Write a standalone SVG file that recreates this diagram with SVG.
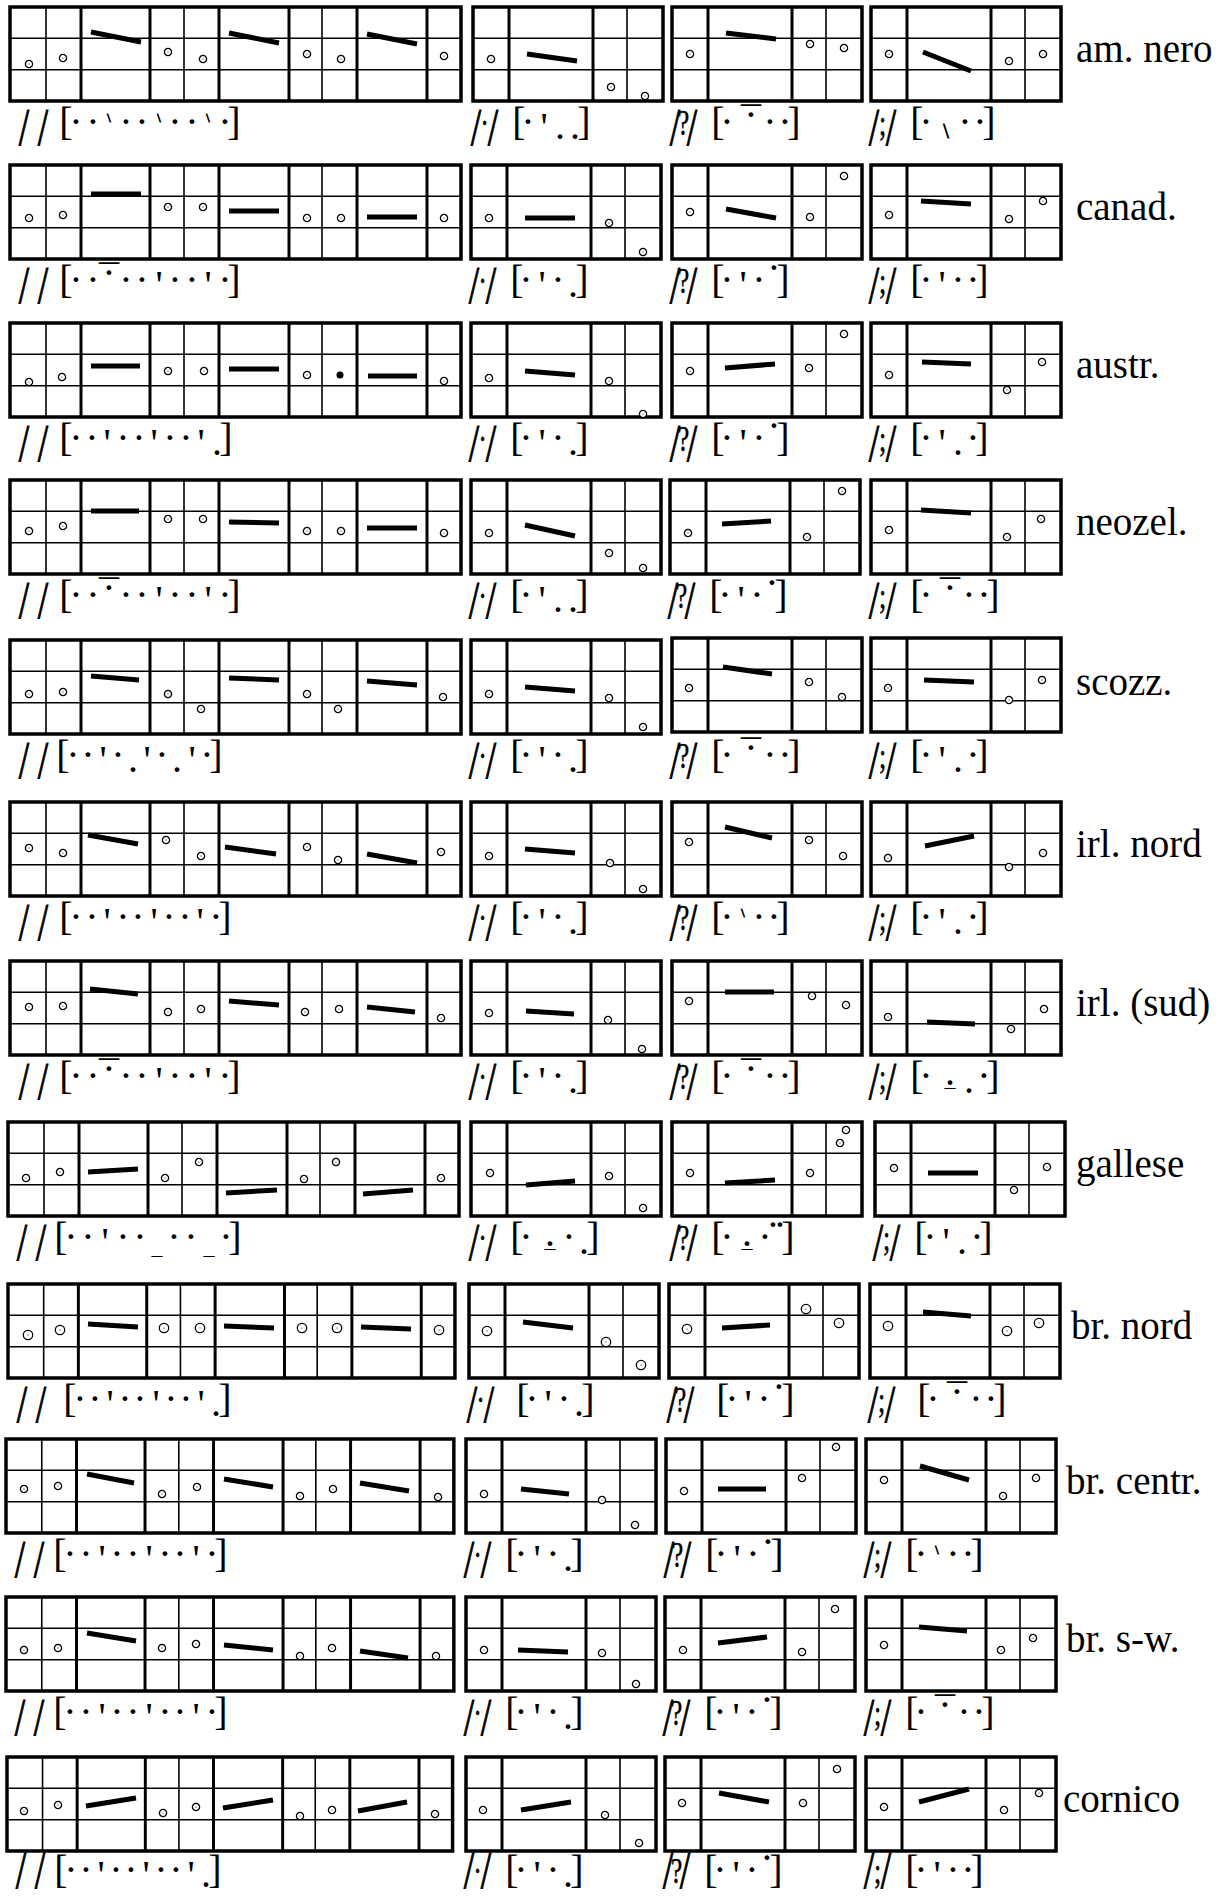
<svg xmlns="http://www.w3.org/2000/svg" xmlns:xlink="http://www.w3.org/1999/xlink" width="1227" height="1899" viewBox="0 0 1227 1899">
<style>
.thin{fill:none;stroke:#000;stroke-width:1.6}
.thick{fill:none;stroke:#000;stroke-width:3}
.frame{fill:none;stroke:#000;stroke-width:3.5}
.b{stroke:#000;stroke-width:5}
.tr{font-family:"Liberation Serif",serif;font-size:40px;text-anchor:middle;fill:#000}
.sl{font-family:"Liberation Serif",serif;font-size:52px;text-anchor:middle;fill:#000;stroke:#000;stroke-width:0.9}
.m{font-size:36px;stroke-width:0.5}
.g{font-size:12px;stroke:#000;stroke-width:0.9}
.lg{font-size:20px;stroke:#000;stroke-width:0.8}
.u{font-size:22px}
.lab{font-family:"Liberation Serif",serif;font-size:39px;fill:#000}
</style>
<defs>
<g id="G">
<rect width="451" height="94" fill="#fff"/>
<path class="thin" d="M0 31.3H451M0 62.7H451M36 0V94M174 0V94M312 0V94"/>
<path class="thick" d="M71 0V94M140 0V94M209 0V94M279 0V94M347 0V94M417 0V94"/>
<rect class="frame" width="451" height="94"/>
</g>
<g id="S">
<rect width="190" height="94" fill="#fff"/>
<path class="thin" d="M0 31.3H190M0 62.7H190M154 0V94"/>
<path class="thick" d="M36 0V94M120 0V94"/>
<rect class="frame" width="190" height="94"/>
</g>
<g id="c"><circle r="3.6" fill="#fff" stroke="#000" stroke-width="1.3"/><circle r="0.6"/></g>
<g id="C"><circle r="4.7" fill="#fff" stroke="#000" stroke-width="1.3"/><circle r="0.6"/></g>
</defs>
<rect width="1227" height="1899" fill="#fff"/>

<!-- Row 1 -->
<g id="row-am-nero">
<g id="r1-big" transform="translate(10,7)">
<use href="#G"/>
<use href="#c" x="19" y="57"/><use href="#c" x="53" y="51"/><use href="#c" x="158" y="45"/><use href="#c" x="193" y="52"/><use href="#c" x="297" y="47"/><use href="#c" x="331" y="52"/><use href="#c" x="434" y="49"/>
<line class="b" x1="81" y1="25" x2="131" y2="35"/><line class="b" x1="219" y1="26" x2="269" y2="36"/><line class="b" x1="357" y1="27" x2="407" y2="37"/>
<text class="sl" transform="scale(0.72,1)"><tspan x="19.4 45.8" y="138">//</tspan></text>
<text class="tr" transform="translate(3,0)"><tspan x="53 63 80 113 129 162 179 212 221" y="128">[·······]</tspan><tspan class="g" x="96 146 195" y="115">\\\</tspan></text>
</g>
<g id="r1-b2" transform="translate(473,7)">
<use href="#S"/>
<use href="#c" x="18" y="52"/><use href="#c" x="138" y="80"/><use href="#c" x="172" y="89"/>
<line class="b" x1="54" y1="47" x2="104" y2="54"/>
<text class="sl" transform="scale(0.72,1)"><tspan x="4.2 27.8" y="138">//</tspan><tspan class="m" x="16" y="128">·</tspan></text>
<text class="tr"><tspan x="46 55 111" y="128">[·]</tspan><tspan x="71" y="133">'</tspan><tspan x="87 102" y="132">..</tspan></text>
</g>
<g id="r1-b3" transform="translate(672,7)">
<use href="#S"/>
<use href="#c" x="18" y="47"/><use href="#c" x="138" y="37"/><use href="#c" x="172" y="41"/>
<line class="b" x1="54" y1="26" x2="104" y2="32"/>
<text class="sl" transform="scale(0.72,1)"><tspan x="4.2 27.8" y="138">//</tspan><tspan class="m" x="16" y="128">?</tspan></text>
<text class="tr"><tspan x="46 55 98 113 122" y="128">[···]</tspan><tspan x="79" y="128">¯</tspan><tspan x="79" y="121">·</tspan></text>
</g>
<g id="r1-b4" transform="translate(871,7)">
<use href="#S"/>
<use href="#c" x="18" y="47"/><use href="#c" x="138" y="54"/><use href="#c" x="172" y="47"/>
<line class="b" x1="52" y1="45" x2="100" y2="64"/>
<text class="sl" transform="scale(0.72,1)"><tspan x="4.2 27.8" y="138">//</tspan><tspan class="m" x="16" y="128">;</tspan></text>
<text class="tr"><tspan x="46 55 94 109 118" y="128">[···]</tspan><tspan class="lg" x="75" y="131">\</tspan></text>
</g>
<text class="lab" x="1076" y="62">am. nero</text>
</g>

<!-- Row 2 -->
<g id="row-canad">
<g id="r2-big" transform="translate(10,165)">
<use href="#G"/>
<use href="#c" x="19" y="53"/><use href="#c" x="53" y="50"/><use href="#c" x="158" y="42"/><use href="#c" x="193" y="42"/><use href="#c" x="297" y="53"/><use href="#c" x="331" y="53"/><use href="#c" x="434" y="53"/>
<line class="b" x1="81" y1="29" x2="131" y2="29"/><line class="b" x1="219" y1="46" x2="269" y2="46"/><line class="b" x1="357" y1="52" x2="407" y2="52"/>
<text class="sl" transform="scale(0.72,1)"><tspan x="19.4 45.8" y="138">//</tspan></text>
<text class="tr" transform="translate(3,0)"><tspan x="53 63 80 113 129 162 179 212 221" y="128">[·······]</tspan><tspan x="96" y="128">¯</tspan><tspan x="96" y="121">·</tspan><tspan x="146 195" y="133">''</tspan></text>
</g>
<g id="r2-b2" transform="translate(471,165)">
<use href="#S"/>
<use href="#c" x="18" y="53"/><use href="#c" x="138" y="58"/><use href="#c" x="172" y="87"/>
<line class="b" x1="54" y1="53" x2="104" y2="53"/>
<text class="sl" transform="scale(0.72,1)"><tspan x="4.2 27.8" y="138">//</tspan><tspan class="m" x="16" y="128">·</tspan></text>
<text class="tr"><tspan x="46 55 87 111" y="128">[··]</tspan><tspan x="71" y="133">'</tspan><tspan x="102" y="132">.</tspan></text>
</g>
<g id="r2-b3" transform="translate(672,165)">
<use href="#S"/>
<use href="#c" x="18" y="47"/><use href="#c" x="138" y="52"/><use href="#c" x="172" y="11"/>
<line class="b" x1="54" y1="44" x2="104" y2="53"/>
<text class="sl" transform="scale(0.72,1)"><tspan x="4.2 27.8" y="138">//</tspan><tspan class="m" x="16" y="128">?</tspan></text>
<text class="tr"><tspan x="46 55 87 111" y="128">[··]</tspan><tspan x="71" y="133">'</tspan><tspan x="102" y="116">·</tspan></text>
</g>
<g id="r2-b4" transform="translate(871,165)">
<use href="#S"/>
<use href="#c" x="18" y="50"/><use href="#c" x="138" y="54"/><use href="#c" x="172" y="36"/>
<line class="b" x1="50" y1="36" x2="100" y2="39"/>
<text class="sl" transform="scale(0.72,1)"><tspan x="4.2 27.8" y="138">//</tspan><tspan class="m" x="16" y="128">;</tspan></text>
<text class="tr"><tspan x="46 55 87 102 111" y="128">[···]</tspan><tspan x="71" y="133">'</tspan></text>
</g>
<text class="lab" x="1076" y="220">canad.</text>
</g>

<!-- Row 3 -->
<g id="row-austr">
<g id="r3-big" transform="translate(10,323)">
<use href="#G"/>
<use href="#c" x="19" y="59"/><use href="#c" x="52" y="54"/><use href="#c" x="158" y="48"/><use href="#c" x="194" y="48"/><use href="#c" x="297" y="52"/><circle cx="330" cy="52" r="3.5"/><use href="#c" x="434" y="58"/>
<line class="b" x1="81" y1="43" x2="130" y2="43"/><line class="b" x1="219" y1="46" x2="269" y2="46"/><line class="b" x1="358" y1="53" x2="407" y2="53"/>
<text class="sl" transform="scale(0.72,1)"><tspan x="19.4 45.8" y="138">//</tspan></text>
<text class="tr" transform="translate(3,0)"><tspan x="53 63 79 110 126 157 173 213" y="128">[······]</tspan><tspan x="94 141 188" y="133">'''</tspan><tspan x="204" y="132">.</tspan></text>
</g>
<g id="r3-b2" transform="translate(471,323)">
<use href="#S"/>
<use href="#c" x="18" y="55"/><use href="#c" x="138" y="58"/><use href="#c" x="172" y="91"/>
<line class="b" x1="54" y1="48" x2="104" y2="52"/>
<text class="sl" transform="scale(0.72,1)"><tspan x="4.2 27.8" y="138">//</tspan><tspan class="m" x="16" y="128">·</tspan></text>
<text class="tr"><tspan x="46 55 87 111" y="128">[··]</tspan><tspan x="71" y="133">'</tspan><tspan x="102" y="132">.</tspan></text>
</g>
<g id="r3-b3" transform="translate(672,323)">
<use href="#S"/>
<use href="#c" x="18" y="48"/><use href="#c" x="137" y="45"/><use href="#c" x="172" y="11"/>
<line class="b" x1="53" y1="45" x2="103" y2="41"/>
<text class="sl" transform="scale(0.72,1)"><tspan x="4.2 27.8" y="138">//</tspan><tspan class="m" x="16" y="128">?</tspan></text>
<text class="tr"><tspan x="46 55 87 111" y="128">[··]</tspan><tspan x="71" y="133">'</tspan><tspan x="102" y="116">·</tspan></text>
</g>
<g id="r3-b4" transform="translate(871,323)">
<use href="#S"/>
<use href="#c" x="18" y="52"/><use href="#c" x="136" y="67"/><use href="#c" x="171" y="39"/>
<line class="b" x1="51" y1="39" x2="100" y2="41"/>
<text class="sl" transform="scale(0.72,1)"><tspan x="4.2 27.8" y="138">//</tspan><tspan class="m" x="16" y="128">;</tspan></text>
<text class="tr"><tspan x="46 55 102 111" y="128">[··]</tspan><tspan x="71" y="133">'</tspan><tspan x="87" y="132">.</tspan></text>
</g>
<text class="lab" x="1076" y="378">austr.</text>
</g>

<!-- Row 4 -->
<g id="row-neozel">
<g id="r4-big" transform="translate(10,480)">
<use href="#G"/>
<use href="#c" x="19" y="51"/><use href="#c" x="53" y="46"/><use href="#c" x="158" y="39"/><use href="#c" x="193" y="39"/><use href="#c" x="297" y="51"/><use href="#c" x="331" y="51"/><use href="#c" x="434" y="53"/>
<line class="b" x1="81" y1="31" x2="129" y2="31"/><line class="b" x1="219" y1="42" x2="269" y2="43"/><line class="b" x1="357" y1="48" x2="407" y2="48"/>
<text class="sl" transform="scale(0.72,1)"><tspan x="19.4 45.8" y="138">//</tspan></text>
<text class="tr" transform="translate(3,0)"><tspan x="53 63 80 113 129 162 179 212 221" y="128">[·······]</tspan><tspan x="96" y="128">¯</tspan><tspan x="96" y="121">·</tspan><tspan x="146 195" y="133">''</tspan></text>
</g>
<g id="r4-b2" transform="translate(471,480)">
<use href="#S"/>
<use href="#c" x="18" y="53"/><use href="#c" x="138" y="73"/><use href="#c" x="172" y="88"/>
<line class="b" x1="54" y1="45" x2="104" y2="56"/>
<text class="sl" transform="scale(0.72,1)"><tspan x="4.2 27.8" y="138">//</tspan><tspan class="m" x="16" y="128">·</tspan></text>
<text class="tr"><tspan x="46 55 111" y="128">[·]</tspan><tspan x="71" y="133">'</tspan><tspan x="87 102" y="132">..</tspan></text>
</g>
<g id="r4-b3" transform="translate(670,480)">
<use href="#S"/>
<use href="#c" x="18" y="53"/><use href="#c" x="137" y="57"/><use href="#c" x="172" y="11"/>
<line class="b" x1="52" y1="44" x2="101" y2="41"/>
<text class="sl" transform="scale(0.72,1)"><tspan x="4.2 27.8" y="138">//</tspan><tspan class="m" x="16" y="128">?</tspan></text>
<text class="tr"><tspan x="46 55 87 111" y="128">[··]</tspan><tspan x="71" y="133">'</tspan><tspan x="102" y="116">·</tspan></text>
</g>
<g id="r4-b4" transform="translate(871,480)">
<use href="#S"/>
<use href="#c" x="18" y="50"/><use href="#c" x="136" y="57"/><use href="#c" x="170" y="39"/>
<line class="b" x1="50" y1="30" x2="100" y2="33"/>
<text class="sl" transform="scale(0.72,1)"><tspan x="4.2 27.8" y="138">//</tspan><tspan class="m" x="16" y="128">;</tspan></text>
<text class="tr"><tspan x="46 55 98 113 122" y="128">[···]</tspan><tspan x="79" y="128">¯</tspan><tspan x="79" y="121">·</tspan></text>
</g>
<text class="lab" x="1076" y="535">neozel.</text>
</g>

<!-- Row 5 -->
<g id="row-scozz">
<g id="r5-big" transform="translate(10,640)">
<use href="#G"/>
<use href="#c" x="19" y="54"/><use href="#c" x="53" y="52"/><use href="#c" x="158" y="54"/><use href="#c" x="191" y="69"/><use href="#c" x="297" y="54"/><use href="#c" x="328" y="69"/><use href="#c" x="433" y="57"/>
<line class="b" x1="81" y1="36" x2="129" y2="40"/><line class="b" x1="219" y1="38" x2="269" y2="40"/><line class="b" x1="357" y1="41" x2="407" y2="45"/>
<text class="sl" transform="scale(0.72,1)"><tspan x="19.4 45.8" y="138">//</tspan></text>
<text class="tr" transform="translate(3,0)"><tspan x="50 60 75 105 149 194 203" y="128">[·····]</tspan><tspan x="90 134 179" y="133">'''</tspan><tspan x="120 164" y="132">..</tspan></text>
</g>
<g id="r5-b2" transform="translate(471,640)">
<use href="#S"/>
<use href="#c" x="18" y="54"/><use href="#c" x="138" y="58"/><use href="#c" x="172" y="87"/>
<line class="b" x1="54" y1="47" x2="104" y2="51"/>
<text class="sl" transform="scale(0.72,1)"><tspan x="4.2 27.8" y="138">//</tspan><tspan class="m" x="16" y="128">·</tspan></text>
<text class="tr"><tspan x="46 55 87 111" y="128">[··]</tspan><tspan x="71" y="133">'</tspan><tspan x="102" y="132">.</tspan></text>
</g>
<g id="r5-b3" transform="translate(672,638)">
<use href="#S"/>
<use href="#c" x="17" y="50"/><use href="#c" x="137" y="44"/><use href="#c" x="170" y="59"/>
<line class="b" x1="51" y1="29" x2="100" y2="36"/>
<text class="sl" transform="scale(0.72,1)"><tspan x="4.2 27.8" y="140">//</tspan><tspan class="m" x="16" y="130">?</tspan></text>
<text class="tr"><tspan x="46 55 98 113 122" y="130">[···]</tspan><tspan x="79" y="130">¯</tspan><tspan x="79" y="123">·</tspan></text>
</g>
<g id="r5-b4" transform="translate(871,638)">
<use href="#S"/>
<use href="#c" x="17" y="50"/><use href="#c" x="138" y="62"/><use href="#c" x="171" y="42"/>
<line class="b" x1="53" y1="42" x2="103" y2="44"/>
<text class="sl" transform="scale(0.72,1)"><tspan x="4.2 27.8" y="140">//</tspan><tspan class="m" x="16" y="130">;</tspan></text>
<text class="tr"><tspan x="46 55 102 111" y="130">[··]</tspan><tspan x="71" y="135">'</tspan><tspan x="87" y="134">.</tspan></text>
</g>
<text class="lab" x="1076" y="695">scozz.</text>
</g>

<!-- Row 6 -->
<g id="row-irl-nord">
<g id="r6-big" transform="translate(10,802)">
<use href="#G"/>
<use href="#c" x="19" y="46"/><use href="#c" x="53" y="51"/><use href="#c" x="156" y="38"/><use href="#c" x="191" y="54"/><use href="#c" x="297" y="45"/><use href="#c" x="328" y="58"/><use href="#c" x="431" y="50"/>
<line class="b" x1="78" y1="33" x2="128" y2="42"/><line class="b" x1="215" y1="45" x2="266" y2="52"/><line class="b" x1="357" y1="52" x2="407" y2="61"/>
<text class="sl" transform="scale(0.72,1)"><tspan x="19.4 45.8" y="138">//</tspan></text>
<text class="tr" transform="translate(3,0)"><tspan x="53 63 79 110 125 156 172 203 212" y="128">[·······]</tspan><tspan x="94 141 187" y="133">'''</tspan></text>
</g>
<g id="r6-b2" transform="translate(471,802)">
<use href="#S"/>
<use href="#c" x="18" y="54"/><use href="#c" x="139" y="61"/><use href="#c" x="172" y="87"/>
<line class="b" x1="54" y1="47" x2="104" y2="51"/>
<text class="sl" transform="scale(0.72,1)"><tspan x="4.2 27.8" y="138">//</tspan><tspan class="m" x="16" y="128">·</tspan></text>
<text class="tr"><tspan x="46 55 87 111" y="128">[··]</tspan><tspan x="71" y="133">'</tspan><tspan x="102" y="132">.</tspan></text>
</g>
<g id="r6-b3" transform="translate(672,802)">
<use href="#S"/>
<use href="#c" x="17" y="40"/><use href="#c" x="137" y="38"/><use href="#c" x="171" y="54"/>
<line class="b" x1="53" y1="25" x2="100" y2="36"/>
<text class="sl" transform="scale(0.72,1)"><tspan x="4.2 27.8" y="138">//</tspan><tspan class="m" x="16" y="128">?</tspan></text>
<text class="tr"><tspan x="46 55 87 102 111" y="128">[···]</tspan><tspan class="g" x="71" y="115">\</tspan></text>
</g>
<g id="r6-b4" transform="translate(871,802)">
<use href="#S"/>
<use href="#c" x="17" y="56"/><use href="#c" x="138" y="65"/><use href="#c" x="172" y="51"/>
<line class="b" x1="54" y1="44" x2="103" y2="34"/>
<text class="sl" transform="scale(0.72,1)"><tspan x="4.2 27.8" y="138">//</tspan><tspan class="m" x="16" y="128">;</tspan></text>
<text class="tr"><tspan x="46 55 102 111" y="128">[··]</tspan><tspan x="71" y="133">'</tspan><tspan x="87" y="132">.</tspan></text>
</g>
<text class="lab" x="1076" y="857">irl. nord</text>
</g>

<!-- Row 7 -->
<g id="row-irl-sud">
<g id="r7-big" transform="translate(10,961)">
<use href="#G"/>
<use href="#c" x="19" y="46"/><use href="#c" x="53" y="45"/><use href="#c" x="158" y="51"/><use href="#c" x="191" y="48"/><use href="#c" x="295" y="51"/><use href="#c" x="329" y="48"/><use href="#c" x="431" y="57"/>
<line class="b" x1="80" y1="28" x2="128" y2="33"/><line class="b" x1="219" y1="40" x2="269" y2="44"/><line class="b" x1="357" y1="46" x2="405" y2="51"/>
<text class="sl" transform="scale(0.72,1)"><tspan x="19.4 45.8" y="138">//</tspan></text>
<text class="tr" transform="translate(3,0)"><tspan x="53 63 80 113 129 162 179 212 221" y="128">[·······]</tspan><tspan x="96" y="128">¯</tspan><tspan x="96" y="121">·</tspan><tspan x="146 195" y="133">''</tspan></text>
</g>
<g id="r7-b2" transform="translate(471,961)">
<use href="#S"/>
<use href="#c" x="18" y="52"/><use href="#c" x="137" y="59"/><use href="#c" x="171" y="88"/>
<line class="b" x1="55" y1="50" x2="103" y2="53"/>
<text class="sl" transform="scale(0.72,1)"><tspan x="4.2 27.8" y="138">//</tspan><tspan class="m" x="16" y="128">·</tspan></text>
<text class="tr"><tspan x="46 55 87 111" y="128">[··]</tspan><tspan x="71" y="133">'</tspan><tspan x="102" y="132">.</tspan></text>
</g>
<g id="r7-b3" transform="translate(672,961)">
<use href="#S"/>
<use href="#c" x="17" y="40"/><use href="#c" x="140" y="35"/><use href="#c" x="174" y="44"/>
<line class="b" x1="53" y1="31" x2="102" y2="31"/>
<text class="sl" transform="scale(0.72,1)"><tspan x="4.2 27.8" y="138">//</tspan><tspan class="m" x="16" y="128">?</tspan></text>
<text class="tr"><tspan x="46 55 98 113 122" y="128">[···]</tspan><tspan x="79" y="128">¯</tspan><tspan x="79" y="121">·</tspan></text>
</g>
<g id="r7-b4" transform="translate(871,961)">
<use href="#S"/>
<use href="#c" x="17" y="56"/><use href="#c" x="140" y="68"/><use href="#c" x="173" y="48"/>
<line class="b" x1="56" y1="61" x2="104" y2="63"/>
<text class="sl" transform="scale(0.72,1)"><tspan x="4.2 27.8" y="138">//</tspan><tspan class="m" x="16" y="128">;</tspan></text>
<text class="tr"><tspan x="46 55 113 122" y="128">[··]</tspan><tspan class="u" x="79" y="125">_</tspan><tspan x="79" y="124">.</tspan><tspan x="98" y="132">.</tspan></text>
</g>
<text class="lab" x="1076" y="1016">irl. (sud)</text>
</g>

<!-- Row 8 -->
<g id="row-gallese">
<g id="r8-big" transform="translate(8,1122)">
<use href="#G"/>
<use href="#c" x="18" y="56"/><use href="#c" x="52" y="50"/><use href="#c" x="157" y="56"/><use href="#c" x="191" y="40"/><use href="#c" x="296" y="57"/><use href="#c" x="328" y="40"/><use href="#c" x="433" y="56"/>
<line class="b" x1="80" y1="50" x2="130" y2="47"/><line class="b" x1="218" y1="71" x2="269" y2="68"/><line class="b" x1="355" y1="72" x2="405" y2="68"/>
<text class="sl" transform="scale(0.72,1)"><tspan x="19.4 45.8" y="138">//</tspan></text>
<text class="tr" transform="translate(3,0)"><tspan x="50 60 77 112 129 163 180 215 224" y="128">[·······]</tspan><tspan x="94" y="133">'</tspan><tspan class="u" x="146 198" y="132">__</tspan></text>
</g>
<g id="r8-b2" transform="translate(471,1122)">
<use href="#S"/>
<use href="#c" x="19" y="51"/><use href="#c" x="138" y="54"/><use href="#c" x="172" y="86"/>
<line class="b" x1="55" y1="63" x2="104" y2="59"/>
<text class="sl" transform="scale(0.72,1)"><tspan x="4.2 27.8" y="138">//</tspan><tspan class="m" x="16" y="128">·</tspan></text>
<text class="tr"><tspan x="46 55 98 122" y="128">[··]</tspan><tspan class="u" x="79" y="125">_</tspan><tspan x="79" y="124">.</tspan><tspan x="113" y="132">.</tspan></text>
</g>
<g id="r8-b3" transform="translate(672,1122)">
<use href="#S"/>
<use href="#c" x="18" y="51"/><use href="#c" x="138" y="51"/><use href="#c" x="168" y="21"/><use href="#c" x="174" y="8"/>
<line class="b" x1="53" y1="61" x2="103" y2="58"/>
<text class="sl" transform="scale(0.72,1)"><tspan x="4.2 27.8" y="138">//</tspan><tspan class="m" x="16" y="128">?</tspan></text>
<text class="tr"><tspan x="46 55 93 116" y="128">[··]</tspan><tspan class="u" x="75" y="125">_</tspan><tspan x="75" y="124">.</tspan><tspan x="101 108" y="116">··</tspan></text>
</g>
<g id="r8-b4" transform="translate(875,1122)">
<use href="#S"/>
<use href="#c" x="19" y="46"/><use href="#c" x="139" y="68"/><use href="#c" x="172" y="45"/>
<line class="b" x1="53" y1="51" x2="103" y2="51"/>
<text class="sl" transform="scale(0.72,1)"><tspan x="4.2 27.8" y="138">//</tspan><tspan class="m" x="16" y="128">;</tspan></text>
<text class="tr"><tspan x="46 55 102 111" y="128">[··]</tspan><tspan x="71" y="133">'</tspan><tspan x="87" y="132">.</tspan></text>
</g>
<text class="lab" x="1076" y="1177">gallese</text>
</g>

<!-- Row 9 -->
<g id="row-br-nord">
<g id="r9-big" transform="translate(8,1284)">
<use href="#G" transform="scale(0.991,1)"/>
<use href="#C" x="20" y="51"/><use href="#C" x="52" y="46"/><use href="#C" x="156" y="44"/><use href="#C" x="192" y="44"/><use href="#C" x="294" y="44"/><use href="#C" x="329" y="44"/><use href="#C" x="431" y="46"/>
<line class="b" x1="80" y1="40" x2="130" y2="43"/><line class="b" x1="216" y1="42" x2="266" y2="44"/><line class="b" x1="353" y1="43" x2="403" y2="45"/>
<text class="sl" transform="scale(0.72,1)"><tspan x="19.4 45.8" y="138">//</tspan></text>
<text class="tr"><tspan x="62 72 87 117 132 163 178 217" y="128">[······]</tspan><tspan x="102 148 193" y="133">'''</tspan><tspan x="208" y="132">.</tspan></text>
</g>
<g id="r9-b2" transform="translate(469,1284)">
<use href="#S"/>
<use href="#C" x="18" y="47"/><use href="#C" x="137" y="58"/><use href="#C" x="172" y="81"/>
<line class="b" x1="54" y1="38" x2="104" y2="44"/>
<text class="sl" transform="scale(0.72,1)"><tspan x="4.2 27.8" y="138">//</tspan><tspan class="m" x="16" y="128">·</tspan></text>
<text class="tr" transform="translate(8,0)"><tspan x="46 55 87 111" y="128">[··]</tspan><tspan x="71" y="133">'</tspan><tspan x="102" y="132">.</tspan></text>
</g>
<g id="r9-b3" transform="translate(669,1284)">
<use href="#S"/>
<use href="#C" x="18" y="45"/><use href="#C" x="137" y="25"/><use href="#C" x="170" y="39"/>
<line class="b" x1="53" y1="44" x2="101" y2="41"/>
<text class="sl" transform="scale(0.72,1)"><tspan x="4.2 27.8" y="138">//</tspan><tspan class="m" x="16" y="128">?</tspan></text>
<text class="tr" transform="translate(8,0)"><tspan x="46 55 87 111" y="128">[··]</tspan><tspan x="71" y="133">'</tspan><tspan x="102" y="116">·</tspan></text>
</g>
<g id="r9-b4" transform="translate(870,1284)">
<use href="#S"/>
<use href="#C" x="18" y="42"/><use href="#C" x="137" y="47"/><use href="#C" x="169" y="39"/>
<line class="b" x1="53" y1="28" x2="101" y2="32"/>
<text class="sl" transform="scale(0.72,1)"><tspan x="4.2 27.8" y="138">//</tspan><tspan class="m" x="16" y="128">;</tspan></text>
<text class="tr" transform="translate(8,0)"><tspan x="46 55 98 113 122" y="128">[···]</tspan><tspan x="79" y="128">¯</tspan><tspan x="79" y="121">·</tspan></text>
</g>
<text class="lab" x="1071" y="1339">br. nord</text>
</g>

<!-- Row 10 -->
<g id="row-br-centr">
<g id="r10-big" transform="translate(6,1439)">
<use href="#G" transform="scale(0.993,1)"/>
<use href="#c" x="18" y="50"/><use href="#c" x="52" y="47"/><use href="#c" x="156" y="55"/><use href="#c" x="191" y="48"/><use href="#c" x="294" y="57"/><use href="#c" x="327" y="50"/><use href="#c" x="432" y="58"/>
<line class="b" x1="81" y1="35" x2="128" y2="44"/><line class="b" x1="218" y1="40" x2="267" y2="48"/><line class="b" x1="354" y1="44" x2="403" y2="52"/>
<text class="sl" transform="scale(0.72,1)"><tspan x="19.4 45.8" y="138">//</tspan></text>
<text class="tr" transform="translate(3,0)"><tspan x="51 61 77 108 124 156 171 203 212" y="128">[·······]</tspan><tspan x="93 140 187" y="133">'''</tspan></text>
</g>
<g id="r10-b2" transform="translate(466,1439)">
<use href="#S"/>
<use href="#c" x="18" y="55"/><use href="#c" x="136" y="61"/><use href="#c" x="169" y="86"/>
<line class="b" x1="55" y1="50" x2="103" y2="55"/>
<text class="sl" transform="scale(0.72,1)"><tspan x="4.2 27.8" y="138">//</tspan><tspan class="m" x="16" y="128">·</tspan></text>
<text class="tr"><tspan x="46 55 87 111" y="128">[··]</tspan><tspan x="71" y="133">'</tspan><tspan x="102" y="132">.</tspan></text>
</g>
<g id="r10-b3" transform="translate(666,1439)">
<use href="#S"/>
<use href="#c" x="18" y="52"/><use href="#c" x="136" y="39"/><use href="#c" x="170" y="8"/>
<line class="b" x1="52" y1="50" x2="100" y2="50"/>
<text class="sl" transform="scale(0.72,1)"><tspan x="4.2 27.8" y="138">//</tspan><tspan class="m" x="16" y="128">?</tspan></text>
<text class="tr"><tspan x="46 55 87 111" y="128">[··]</tspan><tspan x="71" y="133">'</tspan><tspan x="102" y="116">·</tspan></text>
</g>
<g id="r10-b4" transform="translate(866,1439)">
<use href="#S"/>
<use href="#c" x="18" y="41"/><use href="#c" x="137" y="57"/><use href="#c" x="170" y="39"/>
<line class="b" x1="54" y1="27" x2="103" y2="41"/>
<text class="sl" transform="scale(0.72,1)"><tspan x="4.2 27.8" y="138">//</tspan><tspan class="m" x="16" y="128">;</tspan></text>
<text class="tr"><tspan x="46 55 87 102 111" y="128">[···]</tspan><tspan class="g" x="71" y="115">\</tspan></text>
</g>
<text class="lab" x="1066" y="1494">br. centr.</text>
</g>

<!-- Row 11 -->
<g id="row-br-sw">
<g id="r11-big" transform="translate(6,1597)">
<use href="#G" transform="scale(0.993,1)"/>
<use href="#c" x="18" y="53"/><use href="#c" x="52" y="51"/><use href="#c" x="156" y="51"/><use href="#c" x="190" y="47"/><use href="#c" x="294" y="59"/><use href="#c" x="326" y="51"/><use href="#c" x="430" y="59"/>
<line class="b" x1="81" y1="36" x2="130" y2="44"/><line class="b" x1="218" y1="48" x2="267" y2="53"/><line class="b" x1="354" y1="54" x2="402" y2="61"/>
<text class="sl" transform="scale(0.72,1)"><tspan x="19.4 45.8" y="138">//</tspan></text>
<text class="tr" transform="translate(3,0)"><tspan x="51 61 77 108 124 156 171 203 212" y="128">[·······]</tspan><tspan x="93 140 187" y="133">'''</tspan></text>
</g>
<g id="r11-b2" transform="translate(466,1597)">
<use href="#S"/>
<use href="#c" x="18" y="53"/><use href="#c" x="136" y="56"/><use href="#c" x="170" y="87"/>
<line class="b" x1="52" y1="53" x2="102" y2="55"/>
<text class="sl" transform="scale(0.72,1)"><tspan x="4.2 27.8" y="138">//</tspan><tspan class="m" x="16" y="128">·</tspan></text>
<text class="tr"><tspan x="46 55 87 111" y="128">[··]</tspan><tspan x="71" y="133">'</tspan><tspan x="102" y="132">.</tspan></text>
</g>
<g id="r11-b3" transform="translate(665,1597)">
<use href="#S"/>
<use href="#c" x="18" y="53"/><use href="#c" x="137" y="55"/><use href="#c" x="170" y="12"/>
<line class="b" x1="53" y1="46" x2="102" y2="40"/>
<text class="sl" transform="scale(0.72,1)"><tspan x="4.2 27.8" y="138">//</tspan><tspan class="m" x="16" y="128">?</tspan></text>
<text class="tr"><tspan x="46 55 87 111" y="128">[··]</tspan><tspan x="71" y="133">'</tspan><tspan x="102" y="116">·</tspan></text>
</g>
<g id="r11-b4" transform="translate(866,1597)">
<use href="#S"/>
<use href="#c" x="18" y="48"/><use href="#c" x="135" y="53"/><use href="#c" x="167" y="41"/>
<line class="b" x1="53" y1="30" x2="101" y2="34"/>
<text class="sl" transform="scale(0.72,1)"><tspan x="4.2 27.8" y="138">//</tspan><tspan class="m" x="16" y="128">;</tspan></text>
<text class="tr"><tspan x="46 55 98 113 122" y="128">[···]</tspan><tspan x="79" y="128">¯</tspan><tspan x="79" y="121">·</tspan></text>
</g>
<text class="lab" x="1066" y="1652">br. s-w.</text>
</g>

<!-- Row 12 -->
<g id="row-cornico">
<g id="r12-big" transform="translate(7,1757)">
<use href="#G" transform="scale(0.988,1)"/>
<use href="#c" x="17" y="54"/><use href="#c" x="51" y="48"/><use href="#c" x="156" y="56"/><use href="#c" x="189" y="50"/><use href="#c" x="293" y="59"/><use href="#c" x="325" y="53"/><use href="#c" x="428" y="57"/>
<line class="b" x1="79" y1="49" x2="129" y2="41"/><line class="b" x1="216" y1="51" x2="266" y2="43"/><line class="b" x1="351" y1="54" x2="400" y2="45"/>
<text class="sl" transform="scale(0.72,1)"><tspan x="19.4 45.8" y="131">//</tspan></text>
<text class="tr" transform="translate(3,0)"><tspan x="51 61 76 106 121 151 166 205" y="126">[······]</tspan><tspan x="91 136 181" y="131">'''</tspan><tspan x="196" y="130">.</tspan></text>
</g>
<g id="r12-b2" transform="translate(466,1757)">
<use href="#S"/>
<use href="#c" x="17" y="53"/><use href="#c" x="139" y="58"/><use href="#c" x="173" y="86"/>
<line class="b" x1="55" y1="53" x2="105" y2="45"/>
<text class="sl" transform="scale(0.72,1)"><tspan x="4.2 27.8" y="131">//</tspan><tspan class="m" x="16" y="126">·</tspan></text>
<text class="tr"><tspan x="46 55 87 111" y="126">[··]</tspan><tspan x="71" y="131">'</tspan><tspan x="102" y="130">.</tspan></text>
</g>
<g id="r12-b3" transform="translate(665,1757)">
<use href="#S"/>
<use href="#c" x="17" y="46"/><use href="#c" x="138" y="46"/><use href="#c" x="172" y="12"/>
<line class="b" x1="54" y1="36" x2="104" y2="45"/>
<text class="sl" transform="scale(0.72,1)"><tspan x="4.2 27.8" y="131">//</tspan><tspan class="m" x="16" y="126">?</tspan></text>
<text class="tr"><tspan x="46 55 87 111" y="126">[··]</tspan><tspan x="71" y="131">'</tspan><tspan x="102" y="114">·</tspan></text>
</g>
<g id="r12-b4" transform="translate(866,1757)">
<use href="#S"/>
<use href="#c" x="18" y="50"/><use href="#c" x="138" y="53"/><use href="#c" x="173" y="36"/>
<line class="b" x1="53" y1="45" x2="103" y2="32"/>
<text class="sl" transform="scale(0.72,1)"><tspan x="4.2 27.8" y="131">//</tspan><tspan class="m" x="16" y="126">;</tspan></text>
<text class="tr"><tspan x="46 55 87 102 111" y="126">[···]</tspan><tspan x="71" y="131">'</tspan></text>
</g>
<text class="lab" x="1063" y="1812">cornico</text>
</g>
</svg>
